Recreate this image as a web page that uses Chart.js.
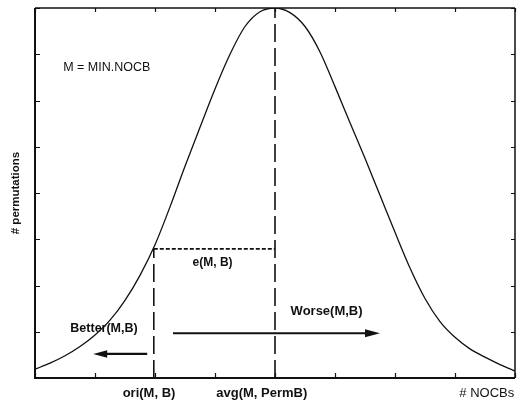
<!DOCTYPE html>
<html>
<head>
<meta charset="utf-8">
<script src="https://cdn.jsdelivr.net/npm/chart.js@4"></script>
<style>
html,body{margin:0;padding:0;background:#fff;}
#wrap{width:518px;height:401px;position:relative;}
</style>
</head>
<body>
<div id="wrap"><canvas id="c" width="518" height="401"></canvas></div>
<script>
// ---- data (axis units: ticks 0..8 on both axes) ----
const xs = [0, 0.25, 0.5, 0.75, 1, 1.25, 1.5, 1.75, 2, 2.25, 2.5, 2.75, 3, 3.25, 3.5, 3.75, 4, 4.25, 4.5, 4.75, 5, 5.25, 5.5, 5.75, 6, 6.25, 6.5, 6.75, 7, 7.25, 7.5, 7.75, 8];
const ys = [0.19, 0.32, 0.48, 0.68, 0.93, 1.25, 1.68, 2.22, 2.88, 3.7, 4.58, 5.42, 6.25, 7.0, 7.6, 7.92, 8, 7.9, 7.6, 7.05, 6.3, 5.52, 4.75, 3.95, 3.15, 2.38, 1.72, 1.22, 0.88, 0.63, 0.45, 0.29, 0.15];
const tickValues = [0, 1, 2, 3, 4, 5, 6, 7, 8];
const oriX = 1.98;        // ori(M, B)
const avgX = 4;           // avg(M, PermB)
const eLevel = 2.79;      // height of curve at ori
const worseArrow = [2.3, 5.75, 0.97];   // from x, to x, at y
const betterArrow = [1.87, 0.97, 0.52]; // from x, to x, at y
const tickLabels = ['ori(M, B)', 'avg(M, PermB)', '# NOCBs'];
const tickLabelAt = [1.9, 3.78, 7.53];
const yTitle = '# permutations';
const notes = [
  {text: 'M = MIN.NOCB', x: 0.47, y: 6.72, bold: false, size: 12.5, align: 'left'},
  {text: 'e(M, B)', x: 2.96, y: 2.49, bold: true, size: 12, align: 'center'},
  {text: 'Better(M,B)', x: 1.15, y: 1.06, bold: true, size: 12.5, align: 'center'},
  {text: 'Worse(M,B)', x: 4.86, y: 1.43, bold: true, size: 13, align: 'center'}
];

const INK = '#111';
const FONT = '"Liberation Sans", Arial, Helvetica, sans-serif';

const curve = xs.map((x, i) => ({x: x, y: ys[i]}));

const annot = {
  id: 'annot',
  afterDraw(chart) {
    const ctx = chart.ctx, a = chart.chartArea;
    const sx = chart.scales.x, sy = chart.scales.y;
    ctx.save();
    // frame
    ctx.strokeStyle = INK;
    ctx.lineWidth = 1.5;
    ctx.beginPath();
    ctx.moveTo(a.left, a.top); ctx.lineTo(a.right, a.top);
    ctx.moveTo(a.right, a.top); ctx.lineTo(a.right, a.bottom);
    ctx.stroke();
    ctx.lineWidth = 2;
    ctx.beginPath();
    ctx.moveTo(a.left, a.top); ctx.lineTo(a.left, a.bottom); ctx.lineTo(a.right, a.bottom);
    ctx.stroke();
    // inward ticks
    ctx.lineWidth = 1.2;
    ctx.beginPath();
    tickValues.forEach(v => {
      const px = Math.round(sx.getPixelForValue(v)) + 0.5;
      ctx.moveTo(px, a.bottom); ctx.lineTo(px, a.bottom - 5);
      ctx.moveTo(px, a.top); ctx.lineTo(px, a.top + 4);
      const py = Math.round(sy.getPixelForValue(v)) + 0.5;
      ctx.moveTo(a.left, py); ctx.lineTo(a.left + 5, py);
      ctx.moveTo(a.right, py); ctx.lineTo(a.right - 4, py);
    });
    ctx.stroke();
    // arrow heads
    function head(fromX, toX, y, len, half) {
      const tx = sx.getPixelForValue(toX), py = sy.getPixelForValue(y);
      const dir = toX > fromX ? 1 : -1;
      ctx.fillStyle = INK;
      ctx.beginPath();
      ctx.moveTo(tx, py);
      ctx.lineTo(tx - dir * len, py - half);
      ctx.lineTo(tx - dir * len, py + half);
      ctx.closePath();
      ctx.fill();
    }
    head(worseArrow[0], worseArrow[1], worseArrow[2], 15, 4);
    head(betterArrow[0], betterArrow[1], betterArrow[2], 14, 3.8);
    // notes
    ctx.fillStyle = INK;
    ctx.textBaseline = 'middle';
    notes.forEach(n => {
      ctx.font = (n.bold ? 'bold ' : '') + n.size + 'px ' + FONT;
      ctx.textAlign = n.align;
      ctx.fillText(n.text, sx.getPixelForValue(n.x), sy.getPixelForValue(n.y));
    });
    // x tick labels
    tickLabels.forEach((t, i) => {
      ctx.font = (i < 2 ? 'bold ' : '') + '13px ' + FONT;
      ctx.textAlign = 'center';
      ctx.fillText(t, sx.getPixelForValue(tickLabelAt[i]), a.bottom + 15);
    });
    // y title
    ctx.save();
    ctx.translate(16, (a.top + a.bottom) / 2);
    ctx.rotate(-Math.PI / 2);
    ctx.font = 'bold 11.5px ' + FONT;
    ctx.textAlign = 'center';
    ctx.fillText(yTitle, 0, 0);
    ctx.restore();
    ctx.restore();
  }
};

new Chart(document.getElementById('c'), {
  type: 'scatter',
  data: {
    datasets: [
      {data: curve, showLine: true, borderColor: INK, borderWidth: 1.3, pointRadius: 0, cubicInterpolationMode: 'monotone'},
      {data: [{x: avgX, y: 0}, {x: avgX, y: 8}], showLine: true, borderColor: INK, borderWidth: 1.6, borderDash: [18, 6], pointRadius: 0},
      {data: [{x: oriX, y: 0}, {x: oriX, y: eLevel}], showLine: true, borderColor: INK, borderWidth: 1.6, borderDash: [18, 6], pointRadius: 0},
      {data: [{x: oriX, y: eLevel}, {x: avgX, y: eLevel}], showLine: true, borderColor: INK, borderWidth: 1.8, borderDash: [4, 2], pointRadius: 0},
      {data: [{x: worseArrow[0], y: worseArrow[2]}, {x: worseArrow[1] - 0.2, y: worseArrow[2]}], showLine: true, borderColor: INK, borderWidth: 2, pointRadius: 0},
      {data: [{x: betterArrow[0], y: betterArrow[2]}, {x: betterArrow[1] + 0.2, y: betterArrow[2]}], showLine: true, borderColor: INK, borderWidth: 2.2, pointRadius: 0}
    ]
  },
  options: {
    responsive: false,
    animation: false,
    events: [],
    layout: {padding: {left: 35, right: 3, top: 8, bottom: 23}},
    plugins: {legend: {display: false}, tooltip: {enabled: false}},
    scales: {
      x: {type: 'linear', min: 0, max: 8, display: true,
          grid: {display: false, drawTicks: false}, border: {display: false},
          ticks: {display: false, stepSize: 1}},
      y: {type: 'linear', min: 0, max: 8, display: true,
          grid: {display: false, drawTicks: false}, border: {display: false},
          ticks: {display: false, stepSize: 1}}
    }
  },
  plugins: [annot]
});
</script>
</body>
</html>
